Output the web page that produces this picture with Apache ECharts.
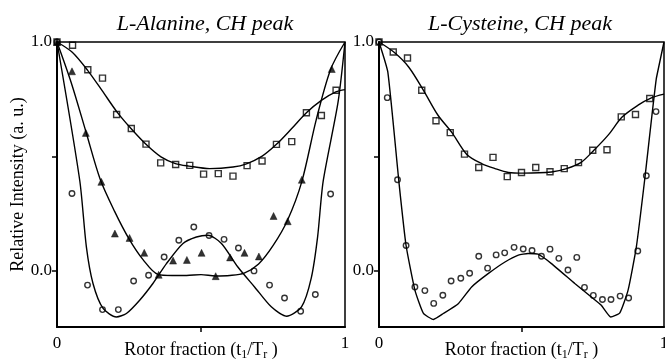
<!DOCTYPE html>
<html>
<head>
<meta charset="utf-8">
<script src="https://cdn.jsdelivr.net/npm/echarts@6/dist/echarts.min.js"></script>
<style>
  html, body { margin: 0; padding: 0; background: #fff; }
  #chart { width: 665px; height: 359px; }
</style>
</head>
<body>
<div id="chart"></div>
<script>
// ---- L-Alanine, CH peak ----
const alaSquareX = [0, 0.054, 0.107, 0.158, 0.207, 0.258, 0.309, 0.360, 0.412, 0.461, 0.509, 0.560, 0.611, 0.660, 0.712, 0.762, 0.815, 0.866, 0.918, 0.969];
const alaSquareY = [1.0, 0.986, 0.879, 0.842, 0.683, 0.622, 0.554, 0.472, 0.465, 0.461, 0.423, 0.425, 0.414, 0.460, 0.480, 0.553, 0.565, 0.691, 0.679, 0.789];

const alaTriX = [0, 0.052, 0.100, 0.154, 0.201, 0.252, 0.303, 0.353, 0.403, 0.451, 0.502, 0.551, 0.601, 0.651, 0.701, 0.752, 0.801, 0.850, 0.954];
const alaTriY = [1.0, 0.872, 0.603, 0.389, 0.163, 0.144, 0.079, -0.017, 0.045, 0.048, 0.079, -0.023, 0.059, 0.079, 0.063, 0.240, 0.217, 0.398, 0.882];

const alaCircX = [0, 0.052, 0.106, 0.158, 0.213, 0.266, 0.318, 0.372, 0.423, 0.475, 0.528, 0.580, 0.630, 0.684, 0.738, 0.790, 0.846, 0.897, 0.950];
const alaCircY = [1.0, 0.338, -0.062, -0.169, -0.169, -0.044, -0.019, 0.061, 0.134, 0.192, 0.155, 0.138, 0.100, 0.0, -0.062, -0.118, -0.176, -0.103, 0.336];

const alaSquareFitX = [0, 0.053, 0.107, 0.158, 0.208, 0.257, 0.309, 0.361, 0.411, 0.458, 0.530, 0.611, 0.658, 0.711, 0.762, 0.815, 0.866, 0.918, 0.968, 1.0];
const alaSquareFitY = [1.0, 0.955, 0.875, 0.785, 0.695, 0.622, 0.553, 0.498, 0.469, 0.458, 0.447, 0.454, 0.468, 0.500, 0.553, 0.622, 0.691, 0.745, 0.782, 0.792];

const alaTriFitX = [0, 0.05, 0.10, 0.15, 0.20, 0.25, 0.30, 0.35, 0.40, 0.45, 0.50, 0.55, 0.60, 0.65, 0.70, 0.75, 0.80, 0.85, 0.90, 0.95, 1.0];
const alaTriFitY = [1.0, 0.82, 0.61, 0.40, 0.26, 0.14, 0.047, -0.015, -0.02, -0.02, -0.016, -0.022, -0.02, -0.01, 0.03, 0.11, 0.22, 0.39, 0.66, 0.88, 1.0];

const alaCircFitX = [0, 0.079, 0.102, 0.125, 0.160, 0.206, 0.241, 0.287, 0.333, 0.380, 0.4375, 0.484, 0.524, 0.571, 0.628, 0.686, 0.744, 0.797, 0.849, 0.883, 0.905, 0.924, 0.976, 1.0];
const alaCircFitY = [1.0, 0.395, 0.105, -0.055, -0.164, -0.201, -0.186, -0.128, -0.055, 0.032, 0.120, 0.148, 0.156, 0.120, 0.017, -0.070, -0.157, -0.198, -0.157, -0.030, 0.150, 0.390, 0.738, 1.0];

// ---- L-Cysteine, CH peak ----
const cysSquareX = [0, 0.05, 0.10, 0.15, 0.20, 0.25, 0.30, 0.35, 0.40, 0.45, 0.50, 0.55, 0.60, 0.65, 0.70, 0.75, 0.80, 0.85, 0.90, 0.95];
const cysSquareY = [1.0, 0.956, 0.930, 0.789, 0.656, 0.604, 0.510, 0.452, 0.496, 0.412, 0.430, 0.452, 0.433, 0.447, 0.473, 0.527, 0.529, 0.673, 0.683, 0.753];

const cysCircX = [0, 0.029, 0.065, 0.095, 0.126, 0.161, 0.192, 0.224, 0.253, 0.287, 0.318, 0.350, 0.381, 0.411, 0.441, 0.474, 0.506, 0.537, 0.570, 0.600, 0.631, 0.663, 0.694, 0.721, 0.752, 0.784, 0.814, 0.846, 0.876, 0.908, 0.938, 0.972];
const cysCircY = [1.0, 0.757, 0.398, 0.111, -0.070, -0.086, -0.142, -0.106, -0.044, -0.032, -0.010, 0.064, 0.012, 0.070, 0.079, 0.103, 0.096, 0.089, 0.064, 0.095, 0.055, 0.004, 0.059, -0.072, -0.107, -0.125, -0.125, -0.110, -0.118, 0.087, 0.416, 0.696];

const cysSquareFitX = [0, 0.053, 0.104, 0.156, 0.207, 0.256, 0.308, 0.360, 0.407, 0.454, 0.507, 0.605, 0.658, 0.708, 0.754, 0.804, 0.853, 0.909, 0.954, 1.0];
const cysSquareFitY = [1.0, 0.955, 0.891, 0.789, 0.680, 0.604, 0.509, 0.469, 0.447, 0.430, 0.427, 0.432, 0.447, 0.473, 0.527, 0.593, 0.672, 0.724, 0.755, 0.772];

const cysCircFitX = [0, 0.031, 0.070, 0.095, 0.126, 0.156, 0.191, 0.226, 0.279, 0.325, 0.384, 0.442, 0.489, 0.523, 0.558, 0.605, 0.687, 0.745, 0.780, 0.813, 0.845, 0.874, 0.903, 0.932, 0.973, 1.0];
const cysCircFitY = [1.0, 0.868, 0.387, 0.111, -0.084, -0.186, -0.212, -0.186, -0.142, -0.070, -0.011, 0.039, 0.069, 0.076, 0.073, 0.032, -0.055, -0.114, -0.150, -0.201, -0.183, -0.084, 0.105, 0.396, 0.840, 1.0];

// axis ticks and labels
const xTickValues = [0.5];
const xLabelValues = [0, 1];
const yTickValues = [0, 0.5];
const yLabelValues = [0, 1];
const titles = ['L-Alanine, CH peak', 'L-Cysteine, CH peak'];

const FONT = 'Liberation Serif';
const pairs = (xs, ys) => xs.map((x, i) => [x, ys[i]]);

function xAxisFor(i) {
  return {
    type: 'value', gridIndex: i, min: 0, max: 1,
    name: '{a|Rotor fraction (t}{b|1}{a|/T}{b|r}{a| )}',
    nameLocation: 'middle', nameGap: 12, nameMoveOverlap: false,
    nameTextStyle: {
      color: '#000', fontFamily: FONT, fontSize: 18,
      rich: {
        a: { fontFamily: FONT, fontSize: 18, color: '#000', lineHeight: 22 },
        b: { fontFamily: FONT, fontSize: 12, color: '#000', lineHeight: 12, verticalAlign: 'bottom' }
      }
    },
    axisLine: { show: true, onZero: false, lineStyle: { color: '#000', width: 2 } },
    axisTick: { show: true, inside: false, length: 5, customValues: xTickValues, lineStyle: { color: '#000', width: 1.5 } },
    axisLabel: { customValues: xLabelValues, formatter: v => String(v), color: '#000', fontFamily: FONT, fontSize: 17, margin: 8 },
    splitLine: { show: false }
  };
}

function yAxisFor(i, withName) {
  return {
    type: 'value', gridIndex: i, min: -0.245, max: 1,
    name: withName ? 'Relative Intensity (a. u.)' : '',
    nameLocation: 'middle', nameRotate: 90, nameGap: 30, nameMoveOverlap: false,
    nameTextStyle: { color: '#000', fontFamily: FONT, fontSize: 18 },
    axisLine: { show: true, onZero: false, lineStyle: { color: '#000', width: 2 } },
    axisTick: { show: true, inside: false, length: 5, customValues: yTickValues, lineStyle: { color: '#000', width: 1.5 } },
    axisLabel: { customValues: yLabelValues, formatter: v => v.toFixed(1), color: '#000', fontFamily: FONT, fontSize: 17, margin: 5 },
    splitLine: { show: false }
  };
}

function fitLine(i, xs, ys, smooth) {
  return {
    type: 'line', xAxisIndex: i, yAxisIndex: i, data: pairs(xs, ys),
    showSymbol: false, symbol: 'none', smooth: smooth,
    lineStyle: { color: '#000', width: 1.4 }, z: 2, silent: true
  };
}

function points(i, xs, ys, symbol, size, filled) {
  return {
    type: 'scatter', xAxisIndex: i, yAxisIndex: i, data: pairs(xs, ys),
    symbol: symbol, symbolSize: size,
    itemStyle: filled
      ? { color: '#000', borderColor: '#000', borderWidth: 0.5 }
      : { color: 'rgba(255,255,255,0)', borderColor: '#000', borderWidth: 1.4 },
    z: 3, silent: true
  };
}

const gridBase = { show: true, borderColor: '#000', borderWidth: 1.5, backgroundColor: 'transparent', containLabel: false, outerBoundsMode: 'none' };

const chart = echarts.init(document.getElementById('chart'), null, { renderer: 'canvas' });
chart.setOption({
  animation: false,
  backgroundColor: '#fff',
  textStyle: { fontFamily: FONT, color: '#000' },
  title: [
    { text: titles[0], left: 200, top: 8, textAlign: 'center',
      textStyle: { fontFamily: FONT, fontStyle: 'italic', fontWeight: 'normal', fontSize: 22, color: '#000' } },
    { text: titles[1], left: 515, top: 8, textAlign: 'center',
      textStyle: { fontFamily: FONT, fontStyle: 'italic', fontWeight: 'normal', fontSize: 22, color: '#000' } }
  ],
  grid: [
    Object.assign({ left: 57, top: 42, width: 288, height: 285 }, gridBase),
    Object.assign({ left: 379, top: 42, width: 285, height: 285 }, gridBase)
  ],
  xAxis: [xAxisFor(0), xAxisFor(1)],
  yAxis: [yAxisFor(0, true), yAxisFor(1, false)],
  series: [
    fitLine(0, alaSquareFitX, alaSquareFitY, 0.3),
    fitLine(0, alaTriFitX, alaTriFitY, 0.3),
    fitLine(0, alaCircFitX, alaCircFitY, 0.25),
    points(0, alaSquareX, alaSquareY, 'rect', 6, false),
    points(0, alaTriX, alaTriY, 'triangle', 7, true),
    points(0, alaCircX, alaCircY, 'circle', 5.5, false),

    fitLine(1, cysSquareFitX, cysSquareFitY, 0.3),
    fitLine(1, cysCircFitX, cysCircFitY, 0.15),
    points(1, cysSquareX, cysSquareY, 'rect', 6, false),
    points(1, cysCircX, cysCircY, 'circle', 5.5, false)
  ]
});
</script>
</body>
</html>
